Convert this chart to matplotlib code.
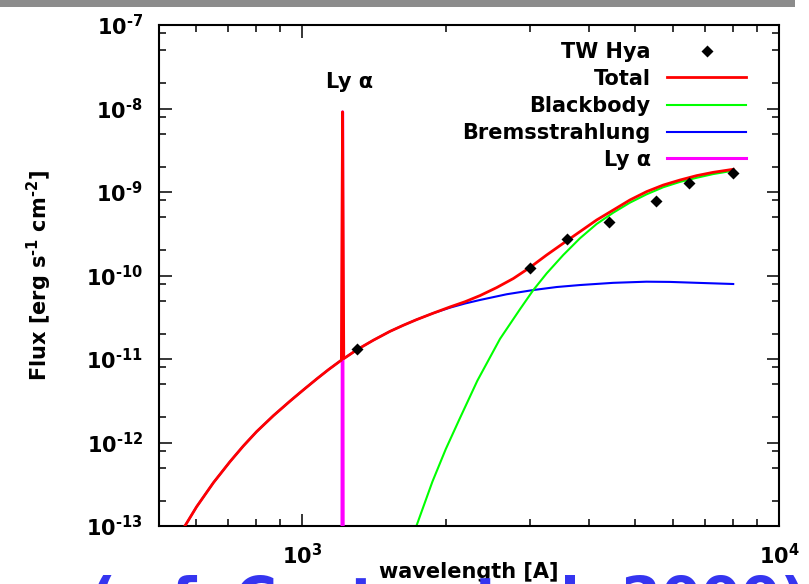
import matplotlib
matplotlib.use("Agg")
import matplotlib.pyplot as plt
from matplotlib.ticker import LogLocator, NullFormatter
from matplotlib.lines import Line2D
from matplotlib.patches import Rectangle

# ---------------- data ----------------
obs_wl = [1302, 3006, 3597, 4400, 5511, 6474, 8017]
obs_flux = [1.31e-11, 1.22e-10, 2.71e-10, 4.41e-10, 7.87e-10, 1.27e-9, 1.67e-9]

brems_wl = [550, 568, 601, 652, 706, 753, 803, 871, 944, 1007, 1074, 1136, 1202,
            1303, 1411, 1528, 1629, 1738, 1884, 2042, 2196, 2360, 2685, 3055,
            3420, 3828, 4493, 5272, 5902, 6607, 8017]
brems_flux = [7.41e-14, 1.00e-13, 1.70e-13, 3.31e-13, 5.89e-13, 9.08e-13,
              1.35e-12, 2.10e-12, 3.14e-12, 4.28e-12, 5.79e-12, 7.46e-12,
              9.46e-12, 1.29e-11, 1.68e-11, 2.14e-11, 2.53e-11, 2.96e-11,
              3.54e-11, 4.12e-11, 4.62e-11, 5.09e-11, 5.96e-11, 6.70e-11,
              7.28e-11, 7.69e-11, 8.17e-11, 8.43e-11, 8.38e-11, 8.20e-11, 7.91e-11]

bb_wl = [1700, 1740, 1876, 2001, 2134, 2331, 2600, 2863, 3054, 3257, 3529, 3825,
         4146, 4492, 4868, 5277, 5717, 6197, 6718, 7278, 8017]
bb_flux = [7.1e-14, 1.03e-13, 3.39e-13, 8.32e-13, 1.86e-12, 5.50e-12, 1.74e-11,
           3.94e-11, 6.70e-11, 1.06e-10, 1.76e-10, 2.79e-10, 4.14e-10, 5.65e-10,
           7.45e-10, 9.38e-10, 1.14e-9, 1.32e-9, 1.48e-9, 1.64e-9, 1.80e-9]

lya_wl = [1212, 1216, 1220]
lya_flux = [1e-14, 9.1e-9, 1e-14]

tot_wl = [550, 568, 601, 652, 706, 753, 803, 871, 944, 1007, 1074, 1136, 1202,
          1209, 1216, 1223, 1303, 1411, 1528, 1629, 1738, 1884, 2042, 2196, 2360,
          2558, 2773, 3006, 3257, 3529, 3825, 4146, 4492, 4868, 5277, 5717, 6197,
          6718, 7278, 8017]
tot_flux = [7.41e-14, 1.00e-13, 1.70e-13, 3.31e-13, 5.89e-13, 9.08e-13,
            1.35e-12, 2.10e-12, 3.14e-12, 4.28e-12, 5.79e-12, 7.46e-12,
            9.46e-12, 9.66e-12, 9.1e-9, 1.01e-11, 1.29e-11, 1.68e-11, 2.14e-11,
            2.53e-11, 2.96e-11, 3.54e-11, 4.20e-11, 4.85e-11, 5.74e-11, 7.16e-11,
            9.20e-11, 1.25e-10, 1.76e-10, 2.43e-10, 3.35e-10, 4.62e-10, 6.08e-10,
            8.02e-10, 1.01e-9, 1.21e-9, 1.39e-9, 1.57e-9, 1.72e-9, 1.87e-9]

xticks = [1e3, 1e4]
xtick_labels = ["$10^{3}$", "$10^{4}$"]
yticks = [1e-13, 1e-12, 1e-11, 1e-10, 1e-9, 1e-8, 1e-7]
ytick_labels = ["$10^{\u2010" + s + "}$" for s in ["13", "12", "11", "10", "9", "8", "7"]]

legend_labels = ["TW Hya", "Total", "Blackbody", "Bremsstrahlung", "Ly \u03b1"]
legend_colors = ["black", "#ff0000", "#00ff00", "#0000ff", "#ff00ff"]

# ---------------- style ----------------
plt.rcParams["font.family"] = ["DejaVu Sans"]
plt.rcParams["font.weight"] = "bold"
plt.rcParams["mathtext.fontset"] = "dejavusans"
plt.rcParams["mathtext.default"] = "bf"
FS = 15

W, H = 809, 584
fig = plt.figure(figsize=(W / 100, H / 100), dpi=100)
L, R, T, B = 158.5, 779, 25, 526
ax = fig.add_axes([L / W, 1 - B / H, (R - L) / W, (B - T) / H])

ax.plot(brems_wl, brems_flux, color="#0000ff", lw=1.5, zorder=2)
ax.plot(bb_wl, bb_flux, color="#00ff00", lw=1.5, zorder=2)
ax.plot(lya_wl, lya_flux, color="#ff00ff", lw=2.2, zorder=3)
ax.plot(tot_wl, tot_flux, color="#ff0000", lw=2.0, zorder=4)
ax.plot(obs_wl, obs_flux, ls="none", marker="D", ms=6.5, mec="none",
        color="black", zorder=5)

ax.set_xscale("log")
ax.set_yscale("log")
ax.set_xlim(500, 10000)
ax.set_ylim(1e-13, 1e-7)

ax.set_xticks(xticks, xtick_labels)
ax.set_yticks(yticks, ytick_labels)
ax.xaxis.set_minor_locator(LogLocator(base=10, subs=[2, 3, 4, 5, 6, 7, 8, 9], numticks=20))
ax.yaxis.set_minor_locator(LogLocator(base=10, subs=[2, 5, 8], numticks=20))
ax.xaxis.set_minor_formatter(NullFormatter())
ax.yaxis.set_minor_formatter(NullFormatter())
ax.tick_params(which="both", direction="in", top=True, right=True,
               width=1.1, labelsize=FS)
ax.tick_params(which="major", length=9)
ax.tick_params(which="minor", length=4.8)
ax.tick_params(axis="x", which="major", pad=12.2)
ax.tick_params(axis="y", which="major", pad=11.2)
for s in ax.spines.values():
    s.set_linewidth(1.5)

ax.set_xlabel("wavelength [A]", fontsize=FS, fontweight="bold")
ax.xaxis.set_label_coords(0.5, -0.072)
ax.set_ylabel("Flux [erg s$^{\u20101}$ cm$^{\u20102}$]", fontsize=FS, fontweight="bold")
ax.yaxis.set_label_coords(-0.168, 0.5)

# Ly alpha annotation
ax.text(0.3084, 0.8743, "Ly \u03b1", transform=ax.transAxes, ha="center",
        va="baseline", fontsize=FS, fontweight="bold")

# manual gnuplot-style legend
axw, axh = R - L, B - T
rows = [50.7, 77.3, 104.7, 131.7, 158.3]
tx = (650.7 - L) / axw
lx0, lx1 = (666.7 - L) / axw, (746 - L) / axw
mx = (706.7 - L) / axw
lws = [None, 2.0, 1.5, 1.5, 2.2]
for i, (lab, col, yr) in enumerate(zip(legend_labels, legend_colors, rows)):
    ya = (B - yr) / axh
    ax.text(tx, ya - 7.6 / axh, lab, transform=ax.transAxes, ha="right",
            va="baseline", fontsize=FS, fontweight="bold")
    if i == 0:
        ax.add_line(Line2D([mx], [ya], transform=ax.transAxes, marker="D",
                           ms=6.5, mec="none", color="black", ls="none",
                           clip_on=False))
    else:
        ax.add_line(Line2D([lx0, lx1], [ya, ya], transform=ax.transAxes,
                           color=col, lw=lws[i], clip_on=False))

# decorations from the slide: grey bar on top and clipped blue caption
fig.add_artist(Rectangle((0, 1 - 7 / H), 795 / W, 7 / H,
                         transform=fig.transFigure, color="#8c8c8c", lw=0))
fig.text(90 / W, (H - 618) / H, "(c.f. Costa et al. 2000)", color="#3535f0",
         fontsize=41, fontweight="bold", ha="left", va="baseline", zorder=0)

fig.savefig("out.png", dpi=100)
